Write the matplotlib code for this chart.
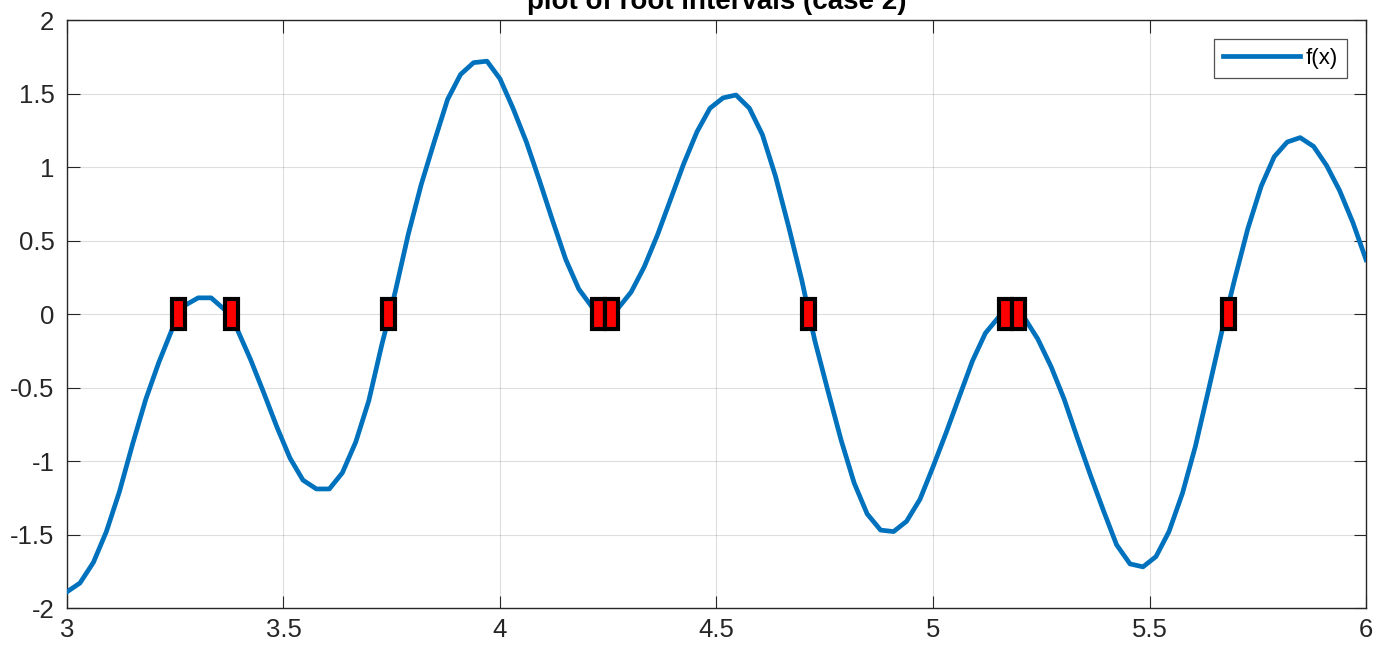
import matplotlib
matplotlib.use("Agg")
import matplotlib.pyplot as plt
from matplotlib.patches import Rectangle

plt.rcParams["font.family"] = ["Liberation Sans", "DejaVu Sans"]
plt.rcParams["axes.unicode_minus"] = False

# sample points of f(x)
X_VALUES = [
    3.000, 3.030, 3.061, 3.091, 3.121, 3.152, 3.182, 3.212, 3.242, 3.273,
    3.303, 3.333, 3.364, 3.394, 3.424, 3.455, 3.485, 3.515, 3.545, 3.576,
    3.606, 3.636, 3.667, 3.697, 3.727, 3.758, 3.788, 3.818, 3.848, 3.879,
    3.909, 3.939, 3.970, 4.000, 4.030, 4.061, 4.091, 4.121, 4.152, 4.182,
    4.212, 4.242, 4.273, 4.303, 4.333, 4.364, 4.394, 4.424, 4.455, 4.485,
    4.515, 4.545, 4.576, 4.606, 4.636, 4.667, 4.697, 4.727, 4.758, 4.788,
    4.818, 4.848, 4.879, 4.909, 4.939, 4.970, 5.000, 5.030, 5.061, 5.091,
    5.121, 5.152, 5.182, 5.212, 5.242, 5.273, 5.303, 5.333, 5.364, 5.394,
    5.424, 5.455, 5.485, 5.515, 5.545, 5.576, 5.606, 5.636, 5.667, 5.697,
    5.727, 5.758, 5.788, 5.818, 5.848, 5.879, 5.909, 5.939, 5.970, 6.000,
]
F_VALUES = [
    -1.89, -1.83, -1.69, -1.48, -1.21, -0.88, -0.58, -0.33, -0.11, 0.06,
    0.11, 0.11, 0.03, -0.11, -0.31, -0.54, -0.77, -0.98, -1.13, -1.19,
    -1.19, -1.08, -0.87, -0.59, -0.21, 0.15, 0.54, 0.88, 1.17, 1.46,
    1.63, 1.71, 1.72, 1.60, 1.40, 1.17, 0.91, 0.64, 0.37, 0.17,
    0.05, -0.01, 0.04, 0.15, 0.32, 0.54, 0.78, 1.02, 1.24, 1.40,
    1.47, 1.49, 1.40, 1.22, 0.94, 0.59, 0.23, -0.18, -0.53, -0.86,
    -1.15, -1.36, -1.47, -1.48, -1.41, -1.26, -1.04, -0.81, -0.56, -0.32,
    -0.13, -0.02, 0.01, -0.03, -0.17, -0.36, -0.58, -0.84, -1.10, -1.34,
    -1.57, -1.70, -1.72, -1.65, -1.48, -1.22, -0.90, -0.52, -0.12, 0.24,
    0.58, 0.87, 1.07, 1.17, 1.20, 1.14, 1.01, 0.84, 0.62, 0.37,
]

# intervals that bracket a root
INTERVAL_LEFT = [3.242, 3.364, 3.727, 4.212, 4.242, 4.697, 5.152, 5.182, 5.667]
INTERVAL_RIGHT = [3.273, 3.394, 3.758, 4.242, 4.273, 4.727, 5.182, 5.212, 5.697]
BOX_LOW, BOX_HIGH = -0.1, 0.1

X_TICKS = [3, 3.5, 4, 4.5, 5, 5.5, 6]
X_TICK_LABELS = ["3", "3.5", "4", "4.5", "5", "5.5", "6"]
Y_TICKS = [-2, -1.5, -1, -0.5, 0, 0.5, 1, 1.5, 2]
Y_TICK_LABELS = ["-2", "-1.5", "-1", "-0.5", "0", "0.5", "1", "1.5", "2"]

fig = plt.figure(figsize=(13.78, 6.5), dpi=100)
ax = fig.add_axes([0.0486, 0.0646, 0.9427, 0.9046])

ax.plot(X_VALUES, F_VALUES, color="#0072BD", linewidth=3.4, label="f(x)", zorder=3)

for a, b in zip(INTERVAL_LEFT, INTERVAL_RIGHT):
    ax.add_patch(Rectangle((a, BOX_LOW), b - a, BOX_HIGH - BOX_LOW,
                           facecolor="red", edgecolor="black", linewidth=3,
                           joinstyle="miter", zorder=4))

ax.set_xlim(3, 6)
ax.set_ylim(-2, 2)
ax.set_xticks(X_TICKS)
ax.set_xticklabels(X_TICK_LABELS)
ax.set_yticks(Y_TICKS)
ax.set_yticklabels(Y_TICK_LABELS)

ax.grid(True, color="#262626", alpha=0.15, linewidth=0.8)
ax.set_axisbelow(True)
ax.tick_params(direction="in", length=9, width=0.8, colors="#262626",
               labelsize=18.5, top=True, right=True)
ax.tick_params(axis="x", pad=7)
ax.tick_params(axis="y", pad=9)
for s in ax.spines.values():
    s.set_color("#262626")
    s.set_linewidth(1.0)

ax.set_title("plot of root intervals (case 2)", fontsize=20, fontweight="bold",
             pad=8)

leg = ax.legend(loc="upper right", bbox_to_anchor=(0.9854, 0.9677), fontsize=16,
                frameon=True, fancybox=False, handlelength=3.5,
                handletextpad=0.25, borderpad=0.4, borderaxespad=0)
leg.get_frame().set_edgecolor("#262626")
leg.get_frame().set_linewidth(0.9)

fig.savefig("out.png", dpi=100)
